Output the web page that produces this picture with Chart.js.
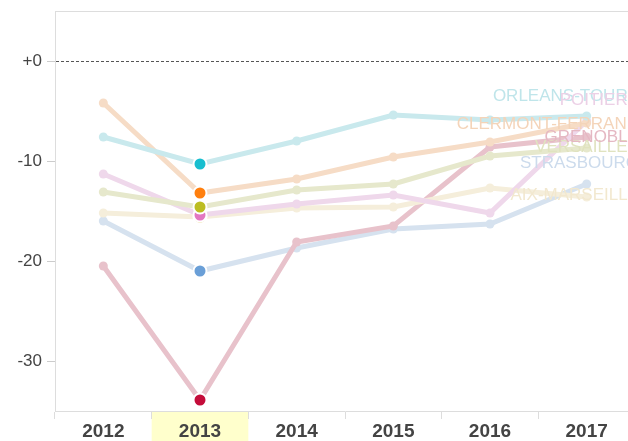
<!DOCTYPE html>
<html lang="fr">
<head>
<meta charset="utf-8">
<title>Académies</title>
<style>
    html, body { margin: 0; padding: 0; background: #fff; overflow: hidden; }
    #wrap { width: 645px; height: 441px; }
</style>
</head>
<body>
<div id="wrap"><canvas id="myChart" width="645" height="441"></canvas></div>
<script src="https://cdn.jsdelivr.net/npm/chart.js@4.4.1/dist/chart.umd.min.js"></script>
<script>
    // data
    var years = ['2012', '2013', '2014', '2015', '2016', '2017'];
    var names = ['ORLEANS-TOURS', 'CLERMONT-FERRAND', 'VERSAILLES', 'POITIERS', 'AIX-MARSEILLE', 'GRENOBLE', 'STRASBOURG'];
    var orleansTours    = [-7.6, -10.3, -8.0, -5.4, -5.9, -5.5];
    var clermontFerrand = [-4.2, -13.2, -11.8, -9.6, -8.1, -6.2];
    var versailles      = [-13.1, -14.6, -12.9, -12.3, -9.5, -8.7];
    var poitiers        = [-11.3, -15.4, -14.3, -13.4, -15.2, -6.0];
    var aixMarseille    = [-15.2, -15.6, -14.7, -14.6, -12.7, -13.6];
    var grenoble        = [-20.5, -33.9, -18.1, -16.5, -8.6, -7.6];
    var strasbourg      = [-16.0, -21.0, -18.7, -16.8, -16.3, -12.3];
    var yTicks = [0, -10, -20, -30];
    var highlightYear = '2013';

    var series = [orleansTours, clermontFerrand, versailles, poitiers, aixMarseille, grenoble, strasbourg];
    var strong = ['#17becf', '#ff7f0e', '#bcbd22', '#e377c2', '#e3c868', '#c40c3a', '#6a9fd7'];
    var pale   = ['#c9e9ed', '#f6dcc6', '#e6e8cc', '#efd8eb', '#f5eedb', '#e8c2cb', '#d6e2ef'];
    var text   = ['#bfe5ea', '#f4d4b9', '#e0e3bf', '#ecd0e6', '#f2e8cf', '#e5b8c3', '#ccdbec'];
    // small vertical nudges (px) for the end labels so they don't overlap
    var labelNudge = [-20, 1, -1, -21, -2, 0, -21];

    var hi = years.indexOf(highlightYear);

    var datasets = series.map(function (vals, i) {
        return {
            label: names[i],
            data: vals,
            borderColor: pale[i],
            backgroundColor: pale[i],
            borderWidth: 5,
            pointRadius: vals.map(function (v, j) { return j === hi ? 0 : 4.5; }),
            pointHoverRadius: 0,
            pointBorderWidth: 0,
            tension: 0
        };
    });

    var highlightPlugin = {
        id: 'highlight',
        beforeDraw: function (chart) {
            var c = chart.ctx, a = chart.chartArea, x = chart.scales.x;
            var w = x.getPixelForValue(1) - x.getPixelForValue(0);
            var cx = x.getPixelForValue(hi);
            c.save();
            c.fillStyle = '#ffffcc';
            c.fillRect(cx - w / 2, a.bottom + 1, w, chart.height - a.bottom);
            c.restore();
        },
        beforeDatasetsDraw: function (chart) {
            var c = chart.ctx, a = chart.chartArea, y = chart.scales.y;
            c.save();
            // top border
            c.strokeStyle = '#dddddd';
            c.lineWidth = 1;
            c.beginPath();
            c.moveTo(a.left, Math.round(a.top) + 0.5);
            c.lineTo(chart.width, Math.round(a.top) + 0.5);
            c.stroke();
            // zero line
            var y0 = Math.round(y.getPixelForValue(0)) + 0.5;
            c.strokeStyle = '#555555';
            c.setLineDash([3, 2]);
            c.beginPath();
            c.moveTo(a.left + 1, y0);
            c.lineTo(chart.width, y0);
            c.stroke();
            c.restore();
        },
        afterDatasetsDraw: function (chart) {
            var c = chart.ctx, a = chart.chartArea;
            c.save();
            // end labels
            c.font = '17px "Liberation Sans", Arial, sans-serif';
            c.textAlign = 'right';
            c.textBaseline = 'middle';
            chart.data.datasets.forEach(function (ds, i) {
                var meta = chart.getDatasetMeta(i);
                var last = meta.data[meta.data.length - 1];
                c.fillStyle = text[i];
                c.fillText(ds.label, a.right + 4, last.y + labelNudge[i]);
            });
            // highlighted year dots, from last to first so the first sits on top
            for (var i = chart.data.datasets.length - 1; i >= 0; i--) {
                var p = chart.getDatasetMeta(i).data[hi];
                c.beginPath();
                c.arc(p.x, p.y, 6.5, 0, Math.PI * 2);
                c.fillStyle = strong[i];
                c.fill();
                c.lineWidth = 2;
                c.strokeStyle = '#ffffff';
                c.stroke();
            }
            c.restore();
        }
    };

    var ctx = document.getElementById('myChart');
    var chart = new Chart(ctx, {
        type: 'line',
        data: { labels: years, datasets: datasets },
        options: {
            responsive: false,
            animation: false,
            events: [],
            layout: { padding: { top: 11, right: 10, left: 0, bottom: 0 } },
            plugins: { legend: { display: false }, tooltip: { enabled: false } },
            scales: {
                x: {
                    offset: true,
                    grid: { offset: true, drawOnChartArea: false, tickLength: 8, color: '#dddddd' },
                    border: { color: '#dddddd' },
                    ticks: {
                        color: '#444444',
                        padding: 1,
                        font: { family: '"Liberation Sans", Arial, sans-serif', size: 19, weight: 'bold' }
                    },
                    afterFit: function (scale) {
                        scale.height = 30;
                        scale.paddingLeft = 0;
                        scale.paddingRight = 0;
                    }
                },
                y: {
                    min: -35,
                    max: 5,
                    grid: { drawOnChartArea: false, tickLength: 8, color: '#cccccc' },
                    border: { color: '#dddddd' },
                    afterBuildTicks: function (scale) {
                        scale.ticks = yTicks.map(function (v) { return { value: v }; });
                    },
                    ticks: {
                        color: '#444444',
                        padding: 5,
                        font: { family: '"Liberation Sans", Arial, sans-serif', size: 17 },
                        callback: function (v) { return v === 0 ? '+0' : String(v); }
                    },
                    afterFit: function (scale) {
                        scale.width = 55;
                        scale.paddingTop = 0;
                        scale.paddingBottom = 0;
                    }
                }
            }
        },
        plugins: [highlightPlugin]
    });
</script>
</body>
</html>
